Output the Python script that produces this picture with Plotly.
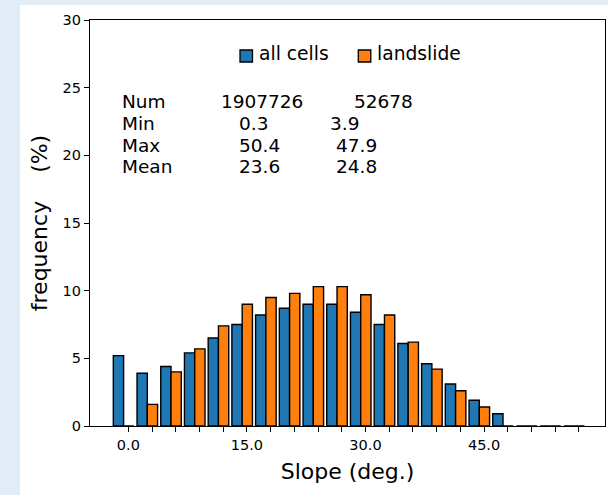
import plotly.graph_objects as go

# Slope bins (deg.) and frequency (%) of each class
slope_bins = [0, 3, 6, 9, 12, 15, 18, 21, 24, 27, 30, 33, 36, 39, 42, 45, 48, 51, 54, 57]
all_cells = [5.2, 3.9, 4.4, 5.4, 6.5, 7.5, 8.2, 8.7, 9.0, 9.0, 8.4, 7.5, 6.1, 4.6, 3.1, 1.9, 0.9, 0, 0, 0]
landslide = [0, 1.6, 4.0, 5.7, 7.4, 9.0, 9.5, 9.8, 10.3, 10.3, 9.7, 8.2, 6.2, 4.2, 2.6, 1.4, 0, 0, 0, 0]

series_names = ["all cells", "landslide"]
series_colors = ["#1f77b4", "#ff7f0e"]

# Summary statistics table
stat_labels = ["Num", "Min", "Max", "Mean"]
stats_all = ["1907726", "0.3", "50.4", "23.6"]
stats_landslide = ["52678", "3.9", "47.9", "24.8"]

x_tick_vals = list(range(0, 58, 3))
x_tick_text = [f"{v:.1f}" if v % 15 == 0 else "" for v in x_tick_vals]
y_tick_vals = [0, 5, 10, 15, 20, 25, 30]

W, H = 608, 495
L, R, T, B = 90, 3, 20, 69
PW, PH = W - L - R, H - T - B
FONT = "DejaVu Sans"


def px(x):
    return (x - L) / PW


def py(y):
    return (H - B - y) / PH


fig = go.Figure()
fig.add_trace(go.Bar(x=slope_bins, y=all_cells, name=series_names[0],
                     width=1.3, offset=-1.9,
                     marker=dict(color=series_colors[0], line=dict(color="black", width=1.4))))
fig.add_trace(go.Bar(x=slope_bins, y=landslide, name=series_names[1],
                     width=1.3, offset=-0.6,
                     marker=dict(color=series_colors[1], line=dict(color="black", width=1.4))))

shapes = [
    # page backdrop with white card
    dict(type="rect", xref="paper", yref="paper", x0=px(20), x1=px(W + 5), y0=py(5), y1=py(H + 5),
         fillcolor="white", line=dict(width=0), layer="below"),
]

# legend boxes and labels
legend_box_x = [240, 358.3]
legend_text_x = [257.5, 376]
annotations = []
for name, color, bx, tx in zip(series_names, series_colors, legend_box_x, legend_text_x):
    shapes.append(dict(type="rect", xref="paper", yref="paper",
                       x0=px(bx), x1=px(bx + 12.5), y0=py(62), y1=py(50),
                       fillcolor=color, line=dict(color="black", width=1.3)))
    annotations.append(dict(text=name, xref="paper", yref="paper", x=px(tx), y=py(53.5),
                            xanchor="left", yanchor="middle", showarrow=False, borderpad=0,
                            font=dict(family=FONT, size=18.7, color="black")))

# statistics block
row_y = [101.5, 123.5, 145, 166.5]
col1_x = [220.7, 239.3, 239.3, 239.3]
col2_x = [354, 330, 336, 336]
for i, lab in enumerate(stat_labels):
    for text, x in ((lab, 121.7), (stats_all[i], col1_x[i]), (stats_landslide[i], col2_x[i])):
        annotations.append(dict(text=text, xref="paper", yref="paper", x=px(x - 1), y=py(row_y[i]),
                                xanchor="left", yanchor="middle", showarrow=False, borderpad=0,
                                font=dict(family=FONT, size=18.5, color="black")))

axis_common = dict(showline=True, linecolor="black", linewidth=1.3, mirror=True,
                   ticks="outside", ticklen=5, tickwidth=1.2, tickcolor="black",
                   showgrid=False, zeroline=False,
                   tickfont=dict(family=FONT, size=14.5, color="black"))

fig.update_layout(
    width=W, height=H,
    margin=dict(l=L, r=R, t=T, b=B),
    paper_bgcolor="#e2ecf7",
    plot_bgcolor="white",
    barmode="overlay",
    showlegend=False,
    shapes=shapes,
    annotations=annotations,
    xaxis=dict(range=[-4.85, 60.3], tickmode="array", tickvals=x_tick_vals, ticktext=x_tick_text,
               title=dict(text="Slope (deg.)", font=dict(family=FONT, size=22, color="black"), standoff=12),
               **axis_common),
    yaxis=dict(range=[0, 30], tickmode="array", tickvals=y_tick_vals,
               title=dict(text="frequency\u00a0\u00a0\u00a0\u00a0(%)", font=dict(family=FONT, size=22, color="black"), standoff=8),
               **axis_common),
)

fig.write_html("out.html")
